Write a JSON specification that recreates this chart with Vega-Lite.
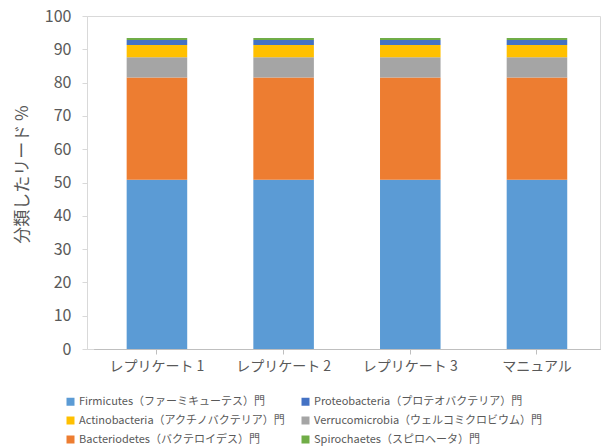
{
  "$schema": "https://vega.github.io/schema/vega-lite/v6.json",
  "autosize": "none",
  "width": 513,
  "height": 333,
  "padding": {"left": 87, "top": 16, "right": 1, "bottom": 97},
  "background": "white",
  "config": {
    "font": "Noto Sans CJK JP",
    "view": {"stroke": "#d9d9d9", "strokeWidth": 1},
    "axis": {"grid": false, "domainColor": "#d9d9d9", "tickColor": "#d9d9d9", "labelColor": "#595959", "titleColor": "#595959", "labelFont": "Noto Sans CJK JP", "titleFont": "Noto Sans CJK JP"}
  },
  "data": {
    "values": [
      {"sample": "レプリケート 1", "phylum": "Firmicutes（ファーミキューテス）門", "pct": 50.8},
      {"sample": "レプリケート 1", "phylum": "Bacteriodetes（バクテロイデス）門", "pct": 30.7},
      {"sample": "レプリケート 1", "phylum": "Verrucomicrobia（ウェルコミクロビウム）門", "pct": 6.1},
      {"sample": "レプリケート 1", "phylum": "Actinobacteria（アクチノバクテリア）門", "pct": 3.7},
      {"sample": "レプリケート 1", "phylum": "Proteobacteria（プロテオバクテリア）門", "pct": 1.5},
      {"sample": "レプリケート 1", "phylum": "Spirochaetes（スピロヘータ）門", "pct": 0.6},
      {"sample": "レプリケート 2", "phylum": "Firmicutes（ファーミキューテス）門", "pct": 50.8},
      {"sample": "レプリケート 2", "phylum": "Bacteriodetes（バクテロイデス）門", "pct": 30.7},
      {"sample": "レプリケート 2", "phylum": "Verrucomicrobia（ウェルコミクロビウム）門", "pct": 6.1},
      {"sample": "レプリケート 2", "phylum": "Actinobacteria（アクチノバクテリア）門", "pct": 3.7},
      {"sample": "レプリケート 2", "phylum": "Proteobacteria（プロテオバクテリア）門", "pct": 1.5},
      {"sample": "レプリケート 2", "phylum": "Spirochaetes（スピロヘータ）門", "pct": 0.6},
      {"sample": "レプリケート 3", "phylum": "Firmicutes（ファーミキューテス）門", "pct": 50.8},
      {"sample": "レプリケート 3", "phylum": "Bacteriodetes（バクテロイデス）門", "pct": 30.7},
      {"sample": "レプリケート 3", "phylum": "Verrucomicrobia（ウェルコミクロビウム）門", "pct": 6.1},
      {"sample": "レプリケート 3", "phylum": "Actinobacteria（アクチノバクテリア）門", "pct": 3.7},
      {"sample": "レプリケート 3", "phylum": "Proteobacteria（プロテオバクテリア）門", "pct": 1.5},
      {"sample": "レプリケート 3", "phylum": "Spirochaetes（スピロヘータ）門", "pct": 0.6},
      {"sample": "マニュアル", "phylum": "Firmicutes（ファーミキューテス）門", "pct": 50.8},
      {"sample": "マニュアル", "phylum": "Bacteriodetes（バクテロイデス）門", "pct": 30.7},
      {"sample": "マニュアル", "phylum": "Verrucomicrobia（ウェルコミクロビウム）門", "pct": 6.1},
      {"sample": "マニュアル", "phylum": "Actinobacteria（アクチノバクテリア）門", "pct": 3.7},
      {"sample": "マニュアル", "phylum": "Proteobacteria（プロテオバクテリア）門", "pct": 1.5},
      {"sample": "マニュアル", "phylum": "Spirochaetes（スピロヘータ）門", "pct": 0.6}
    ]
  },
  "mark": {"type": "bar"},
  "encoding": {
    "x": {
      "field": "sample", "type": "nominal", "sort": null,
      "scale": {"range": [6.6, 513.3], "paddingInner": 0.522, "paddingOuter": 0.261},
      "axis": {"title": null, "labelAngle": 0, "labelFontSize": 14, "tickSize": 5, "labelPadding": 5, "domainColor": "#bfbfbf", "tickColor": "#bfbfbf"}
    },
    "y": {
      "field": "pct", "type": "quantitative", "stack": "zero",
      "scale": {"domain": [0, 100], "nice": false},
      "axis": {"title": "分類したリード %", "values": [0,10,20,30,40,50,60,70,80,90,100], "labelFontSize": 16, "titleFontSize": 17, "titleFontWeight": "normal", "tickSize": 5, "labelPadding": 11, "titlePadding": 13, "titleY": 158, "domainColor": "#d9d9d9"}
    },
    "order": {"field": "pct", "sort": "descending"},
    "color": {
      "field": "phylum", "type": "nominal",
      "scale": {
        "domain": ["Firmicutes（ファーミキューテス）門", "Actinobacteria（アクチノバクテリア）門", "Bacteriodetes（バクテロイデス）門", "Proteobacteria（プロテオバクテリア）門", "Verrucomicrobia（ウェルコミクロビウム）門", "Spirochaetes（スピロヘータ）門"],
        "range": ["#5B9BD5", "#FFC000", "#ED7D31", "#4472C4", "#A5A5A5", "#70AD47"]
      },
      "legend": {
        "title": null, "orient": "none", "legendX": -22, "legendY": 380, "columns": 2,
        "symbolType": "square", "symbolSize": 64, "symbolStrokeWidth": 0, "symbolOffset": 0,
        "labelFontSize": 11, "labelColor": "#595959", "labelOffset": 3, "rowPadding": 7, "columnPadding": 14, "labelLimit": 300
      }
    }
  }
}
